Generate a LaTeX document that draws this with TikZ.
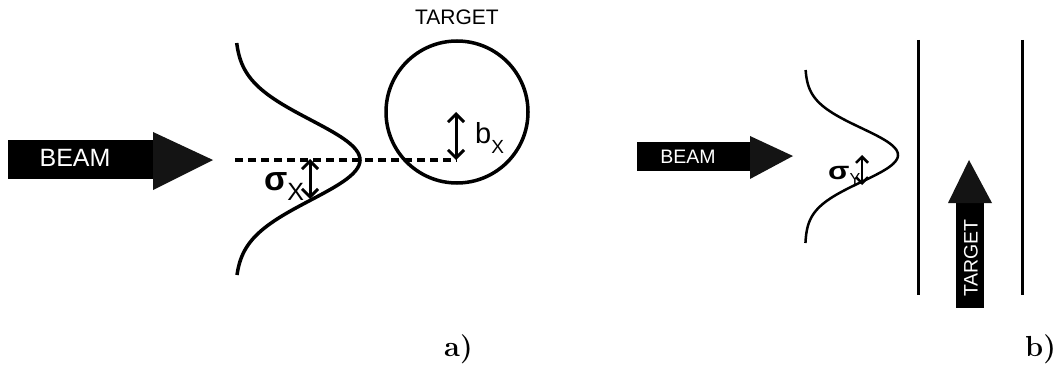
\documentclass[tikz,border=0pt]{standalone}
\usepackage{fontspec}
\newfontfamily\arial{Liberation Sans}
\usetikzlibrary{arrows.meta}
\begin{document}
\begin{tikzpicture}[x=1pt,y=-1pt,
  thickcurve/.style={line width=3.5pt},
  thincurve/.style={line width=2.5pt},
  bodyfill/.style={fill=black},
  headfill/.style={fill=black!92},
  dblarrow/.style={line width=3pt,{Straight Barb[length=8pt,width=16pt]}-{Straight Barb[length=8pt,width=16pt]}},
  smalldbl/.style={line width=2.5pt,{Straight Barb[length=6pt,width=12pt]}-{Straight Barb[length=6pt,width=12pt]}},
  lbl/.style={inner sep=0pt, font=\arial},
  panel/.style={inner sep=0pt, font=\bfseries\fontsize{29}{29}\selectfont, anchor=base west}
]
\useasboundingbox (0,0) rectangle (1055,377);

% ---------- panel a ----------
% beam arrow
\fill[bodyfill] (8,140) rectangle (154,179);
\fill[headfill] (153,132) -- (213,160) -- (153,190) -- cycle;
\node[lbl, text=white, font=\arial\fontsize{25}{25}\selectfont] (beamA) at (75,158) {BEAM};

% gaussian
\draw[thickcurve] plot[domain=43:275, samples=90, variable=\t, smooth]
  ({235+125*exp(-((\t-160)*(\t-160))/3200)}, \t);

% dashed axis
\coordinate (dashL) at (235,160);
\coordinate (dashR) at (457,160);
\draw[line width=3.5pt, dash pattern=on 8pt off 5pt] (dashL) -- (dashR);

% target circle
\node[draw, circle, line width=3.5pt, minimum size=142pt, inner sep=0pt] (circ) at (457,112) {};
\node[lbl, font=\arial\fontsize{21}{21}\selectfont] (targetA) at (457,17) {TARGET};

% sigma_x
\coordinate (sxT) at (310,159);
\coordinate (sxB) at (310,199);
\draw[dblarrow] (sxT) -- (sxB);
\node[lbl, anchor=base west] (sigx) at (264,190)
  {{\bfseries\fontsize{34}{34}\selectfont σ}\raisebox{-10pt}{\fontsize{25}{25}\selectfont X}};

% b_x
\coordinate (bT) at (456,112);
\coordinate (bB) at (456,160);
\draw[dblarrow] (bT) -- (bB);
\node[lbl, anchor=base west] (bx) at (475,143)
  {{\fontsize{29}{29}\selectfont b}\raisebox{-10pt}{\fontsize{19}{19}\selectfont X}};

\node[panel] (la) at (444,356) {a)};

% ---------- panel b ----------
\fill[bodyfill] (637,142) rectangle (751,171);
\fill[headfill] (750,136) -- (793,156) -- (750,179) -- cycle;
\node[lbl, text=white, font=\arial\fontsize{19.5}{19.5}\selectfont] (beamB) at (688,157) {BEAM};

\draw[thincurve] plot[domain=70:243, samples=90, variable=\t, smooth]
  ({805+93*exp(-((\t-155)*(\t-155))/1450)}, \t);

\coordinate (syT) at (862,155);
\coordinate (syB) at (862,185);
\draw[smalldbl] (syT) -- (syB);
\node[lbl, anchor=base west] (sigy) at (828,179)
  {\scalebox{1.25}[1]{\bfseries\fontsize{25}{25}\selectfont σ}\raisebox{-5pt}{\fontsize{16}{16}\selectfont Y}};

% target walls
\coordinate (w1T) at (918,40);
\coordinate (w1B) at (918,295);
\coordinate (w2T) at (1022,40);
\coordinate (w2B) at (1022,295);
\draw[line width=3pt] (w1T) -- (w1B);
\draw[line width=3pt] (w2T) -- (w2B);

% target arrow
\fill[bodyfill] (956,202) rectangle (984,308);
\fill[headfill] (948,203) -- (969,160) -- (992,203) -- cycle;
\node[lbl, text=white, rotate=90, font=\arial\fontsize{19.5}{19.5}\selectfont] (targetB) at (971,258) {TARGET};

\node[panel] (lb) at (1025,356) {b)};
\end{tikzpicture}
\end{document}
